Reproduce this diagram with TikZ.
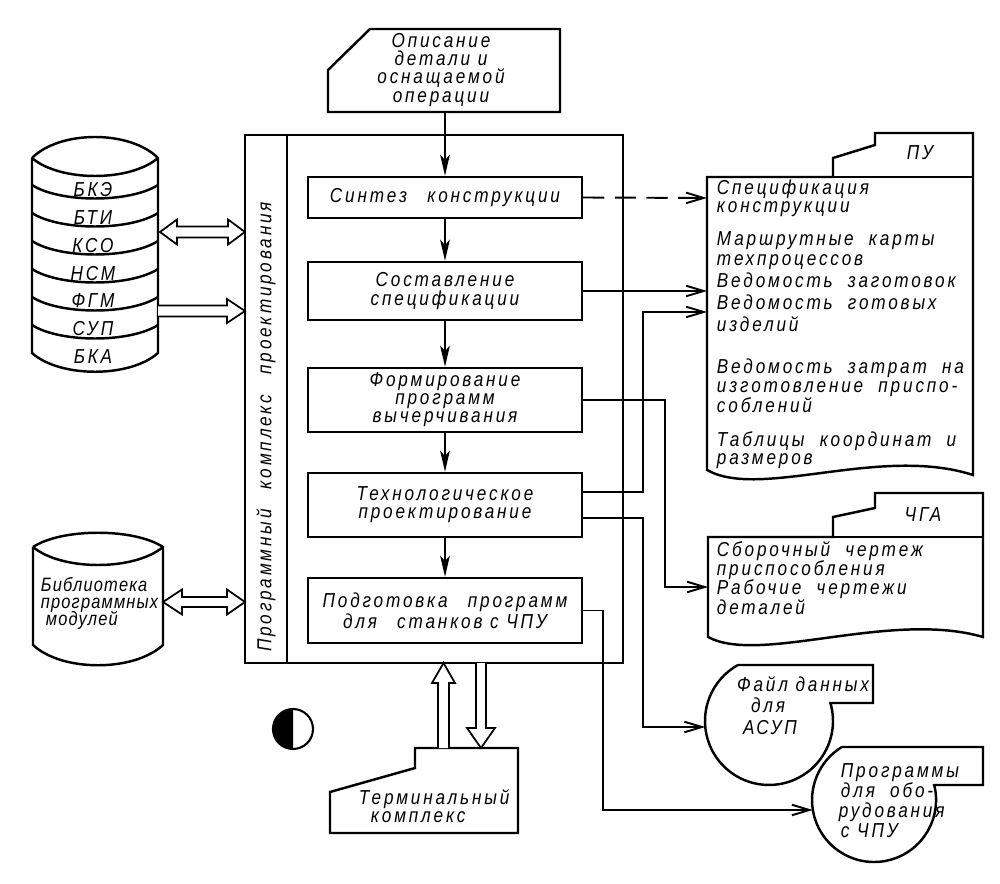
\documentclass[tikz,border=0pt]{standalone}
\usepackage{fontspec}
\setmainfont{Liberation Sans}[FakeStretch=0.85,LetterSpace=14]
\usetikzlibrary{arrows.meta,calc}
\begin{document}
\begin{tikzpicture}[x=0.02cm,y=-0.02cm,line width=1.1pt,
  txt/.style={font=\itshape\fontsize{11.5}{10.3}\selectfont, inner sep=0pt},
  procbox/.style={draw, line width=1.4pt, minimum width=274*0.02cm, txt, align=center},
  lbl/.style={txt, anchor=west, text height=6.5pt, text depth=1.5pt},
  clbl/.style={txt, text height=6.5pt, text depth=1.5pt},
  flow/.style={-{Stealth[length=12pt,width=5.5pt,inset=3pt]}},
  outarr/.style={-{Straight Barb[length=10pt,width=6pt]}},
  hollow/.style={line width=1pt, fill=white},
  shp/.style={line width=1.4pt}]
\useasboundingbox (0,0) rectangle (1000,884);

% ---------- main frame ----------
\node[draw, shp, minimum width=378*0.02cm, minimum height=528*0.02cm, inner sep=0pt] (frame) at (434,399) {};
\draw[shp] (287,135) -- (287,663);
\node[txt, rotate=90] (strip) at (266,427) {Программный\quad комплекс\quad проектирования};

% ---------- process boxes ----------
\node[procbox, minimum height=41*0.02cm] (synth) at (445,197.5) {Синтез\quad конструкции};
\node[procbox, minimum height=58*0.02cm] (spec) at (445,291) {Составление\\спецификации};
\node[procbox, minimum height=64*0.02cm] (form) at (445,400) {Формирование\\программ\\вычерчивания};
\node[procbox, minimum height=64*0.02cm] (tech) at (445,505) {Технологическое\\проектирование};
\node[procbox, minimum height=65*0.02cm] (prep) at (445,610.5) {Подготовка\quad программ\\для\quad станков с ЧПУ};

% ---------- input document ----------
\draw[shp] (328,112) -- (328,70) -- (370,29) -- (560,29) -- (560,112) -- cycle;
\node[txt, align=center] (inp) at (441,70) {Описание\\детали и\\оснащаемой\\операции};
\coordinate (inpb) at (445,112);

\draw[flow] (inpb) -- (synth.north);
\draw[flow] (synth) -- (spec);
\draw[flow] (spec) -- (form);
\draw[flow] (form) -- (tech);
\draw[flow] (tech) -- (prep);

% ---------- database cylinder ----------
\draw[shp] (32,158) -- (32,353) .. controls (60,378) and (130,378) .. (158,353) -- (158,158) .. controls (130,130) and (60,130) .. (32,158);
\draw[shp] (32,158) .. controls (60,182) and (130,182) .. (158,158);
\foreach \yy in {185,213,241,269,297,325}
  \draw[shp] (32,\yy) .. controls (60,\yy+18) and (130,\yy+18) .. (158,\yy);
\node[clbl] (l1) at (93,192) {БКЭ};
\node[clbl] (l2) at (93,220) {БТИ};
\node[clbl] (l3) at (93,248) {КСО};
\node[clbl] (l4) at (93,276) {НСМ};
\node[clbl] (l5) at (93,303) {ФГМ};
\node[clbl] (l6) at (93,331) {СУП};
\node[clbl] (l7) at (93,359) {БКА};

% ---------- library cylinder ----------
\draw[shp] (33,547) -- (33,645) .. controls (62,672) and (134,672) .. (163,645) -- (163,547) .. controls (134,528) and (62,528) .. (33,547);
\draw[shp] (33,547) .. controls (62,571) and (134,571) .. (163,547);
\begin{scope}[lbl/.append style={font=\itshape\fontsize{11}{10}\selectfont\addfontfeature{LetterSpace=6}}]
\node[lbl] (lib1) at (40,587) {Библиотека};
\node[lbl] (lib2) at (40,604) {программных};
\node[lbl] (lib3) at (45,621) {модулей};
\end{scope}

% ---------- hollow arrows left ----------
\draw[hollow] (160,232) -- (177,219.5) -- (177,226.5) -- (228,226.5) -- (228,219.5) -- (245,232) -- (228,244.5) -- (228,237.5) -- (177,237.5) -- (177,244.5) -- cycle;
\draw[hollow] (158,305.5) -- (227,305.5) -- (227,299) -- (245,311) -- (227,323) -- (227,316.5) -- (158,316.5);
\draw[hollow] (163,602) -- (182,589.5) -- (182,597) -- (227,597) -- (227,589.5) -- (245,602) -- (227,614.5) -- (227,607) -- (182,607) -- (182,614.5) -- cycle;

% ---------- terminal ----------
\draw[shp] (330,833) -- (330,792) -- (415,768) -- (415,748) -- (518,748) -- (518,833) -- cycle;
\node[lbl] (term1) at (358,800) {Терминальный};
\node[lbl] (term2) at (370,818) {комплекс};
\draw[hollow] (438,748) -- (438,683) -- (432,683) -- (443.5,663) -- (455,683) -- (449,683) -- (449,748);
\draw[hollow] (476,663) -- (476,728) -- (467,728) -- (481,748) -- (495,728) -- (486,728) -- (486,663);

% half-filled circle
\fill (293,709) arc[start angle=-90, end angle=-270, radius=20] -- cycle;
\draw[line width=1.2pt] (293,729) circle[radius=20];

% ---------- document PU ----------
\draw[shp] (707,177) -- (707,470) .. controls (760,500) and (880,445) .. (973,475) -- (973,133) -- (875,133) -- (875,145) -- (833,158) -- (833,177) -- cycle;
\draw[shp] (833,177) -- (973,177);
\node[clbl] (pu) at (920,155) {ПУ};
\node[lbl] at (716,190) {Спецификация};
\node[lbl] at (716,208) {конструкции};
\node[lbl] at (716,241) {Маршрутные\ \ карты};
\node[lbl] at (716,261) {техпроцессов};
\node[lbl] at (716,283) {Ведомость\ \ заготовок};
\node[lbl] at (716,305) {Ведомость\ \ готовых};
\node[lbl] at (716,327) {изделий};
\node[lbl] at (716,369) {Ведомость\ \ затрат\ \ на};
\node[lbl] at (716,388) {изготовление\ \ приспо-};
\node[lbl] at (716,408) {соблений};
\node[lbl] at (716,442) {Таблицы\ \ координат\ \ и};
\node[lbl] at (716,460) {размеров};

% ---------- document CGA ----------
\draw[shp] (708,537) -- (708,637) .. controls (760,665) and (890,610) .. (983,637) -- (983,493) -- (875,493) -- (875,508) -- (833,517) -- (833,537) -- cycle;
\draw[shp] (833,537) -- (983,537);
\node[clbl] (cgal) at (923,517) {ЧГА};
\node[lbl] at (716,552) {Сборочный\ \ чертеж};
\node[lbl] at (716,571) {приспособления};
\node[lbl] at (716,590) {Рабочие\ \ чертежи};
\node[lbl] at (716,610) {деталей};

% ---------- file for ASUP ----------
\draw[shp] (738,665) -- (873,665) -- (873,703) -- (830.4,703) arc[start angle=-16.3, end angle=241, radius=64];
\node[clbl] at (803,687) {Файл данных};
\node[clbl] at (768,708) {для};
\node[clbl] at (770,730) {АСУП};

% ---------- programs ----------
\draw[shp] (842,747) -- (983,747) -- (983,785) -- (934.2,785) arc[start angle=-14, end angle=239, radius=62];
\node[lbl] at (840,773) {Программы};
\node[lbl] at (840,793) {для\ \ обо-};
\node[lbl] at (838,813) {рудования};
\node[lbl] at (840,833) {с ЧПУ};

% ---------- output connectors ----------
\coordinate (pu1) at (707,198);
\coordinate (pu2) at (707,291);
\coordinate (pu3) at (707,312);
\coordinate (cga) at (708,587);
\coordinate (fil) at (705.3,727);
\coordinate (prg) at (812.8,810);
\draw[outarr, dash pattern=on 12pt off 6pt] (synth.east) -- (pu1);
\draw[outarr] (spec.east) -- (pu2);
\draw[outarr] ([yshift=0.26cm]tech.east) -| (643,312) -- (pu3);
\draw[outarr] (form.east) -| (665,587) -- (cga);
\draw[outarr] ([yshift=-0.26cm]tech.east) -| (643,727) -- (fil);
\draw[outarr] (prep.east) -| (603,810) -- (prg);
\end{tikzpicture}
\end{document}
